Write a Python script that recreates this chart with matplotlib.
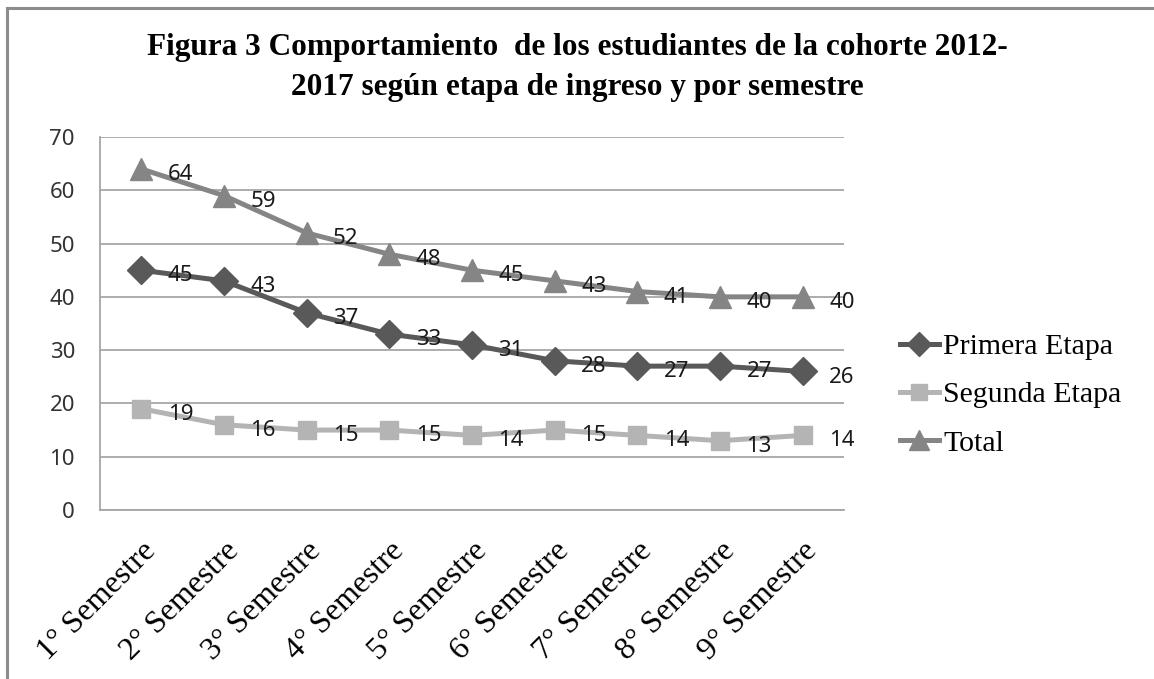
import matplotlib
matplotlib.use("Agg")
import matplotlib.pyplot as plt
from matplotlib.lines import Line2D

semestres = ["1° Semestre", "2° Semestre", "3° Semestre", "4° Semestre", "5° Semestre",
             "6° Semestre", "7° Semestre", "8° Semestre", "9° Semestre"]
primera = [45, 43, 37, 33, 31, 28, 27, 27, 26]
segunda = [19, 16, 15, 15, 14, 15, 14, 13, 14]
total = [64, 59, 52, 48, 45, 43, 41, 40, 40]

series = [
    ("Primera Etapa", primera, "#595959", "D", 14),
    ("Segunda Etapa", segunda, "#b4b4b4", "s", 12.5),
    ("Total", total, "#858585", "^", 16),
]

fig = plt.figure(figsize=(11.54, 6.79), dpi=100)
ax = fig.add_axes([100 / 1154, 1 - 510 / 679, 744 / 1154, 373 / 679])

x = list(range(len(semestres)))
for name, vals, col, mk, ms in series:
    ax.plot(x, vals, color=col, lw=3.6, marker=mk, markersize=ms,
            markeredgecolor=col, markerfacecolor=col, label=name, zorder=3)
    for xi, v in zip(x, vals):
        ax.annotate(str(v), (xi, v), xytext=(19, -4), textcoords="offset points",
                    ha="left", va="center", fontsize=16, family="Noto Sans",
                    color="#1a1a1a", zorder=4)

ax.set_xlim(-0.5, len(semestres) - 0.5)
ax.set_ylim(0, 70)
ax.set_yticks(range(0, 71, 10))
ax.yaxis.grid(True, color="#a6a6a6", lw=1.3)
ax.set_axisbelow(True)
for s in ["top", "right"]:
    ax.spines[s].set_visible(False)
for s in ["left", "bottom"]:
    ax.spines[s].set_color("#a6a6a6")
    ax.spines[s].set_linewidth(1.3)
ax.tick_params(length=0)
ax.tick_params(axis="y", pad=18, labelsize=16, labelcolor="#333333")
for t in ax.get_yticklabels():
    t.set_family("Noto Sans")
ax.set_xticks(x)
ax.set_xticklabels(semestres, rotation=45, ha="right", rotation_mode="anchor",
                   family="Liberation Serif", fontsize=23)
ax.tick_params(axis="x", pad=19)

handles = [Line2D([0], [0], color=c, lw=3.6, marker=m, markersize=ms * 0.9,
                  markeredgecolor=c) for _, _, c, m, ms in series]
fig.legend(handles, [s[0] for s in series], loc="center left",
           bbox_to_anchor=(900 / 1154, 1 - 395 / 679), frameon=False,
           borderaxespad=0, borderpad=0,
           prop={"family": "Liberation Serif", "size": 21.5},
           handlelength=1.3, handletextpad=0.15, labelspacing=0.72)

fig.text(0.5, 1 - 68 / 679,
         "Figura 3 Comportamiento  de los estudiantes de la cohorte 2012-\n"
         "2017 según etapa de ingreso y por semestre",
         ha="center", va="center", family="Liberation Serif", weight="bold",
         fontsize=22.5, linespacing=1.5)

# gray frame around the chart area
fig.add_artist(Line2D([7 / 1154, 7 / 1154], [0, 1 - 8 / 679], color="#8c8c8c",
                      lw=2.2, transform=fig.transFigure))
fig.add_artist(Line2D([7 / 1154, 1], [1 - 8 / 679, 1 - 8 / 679], color="#8c8c8c",
                      lw=2.2, transform=fig.transFigure))

fig.savefig("out.png", dpi=100)
